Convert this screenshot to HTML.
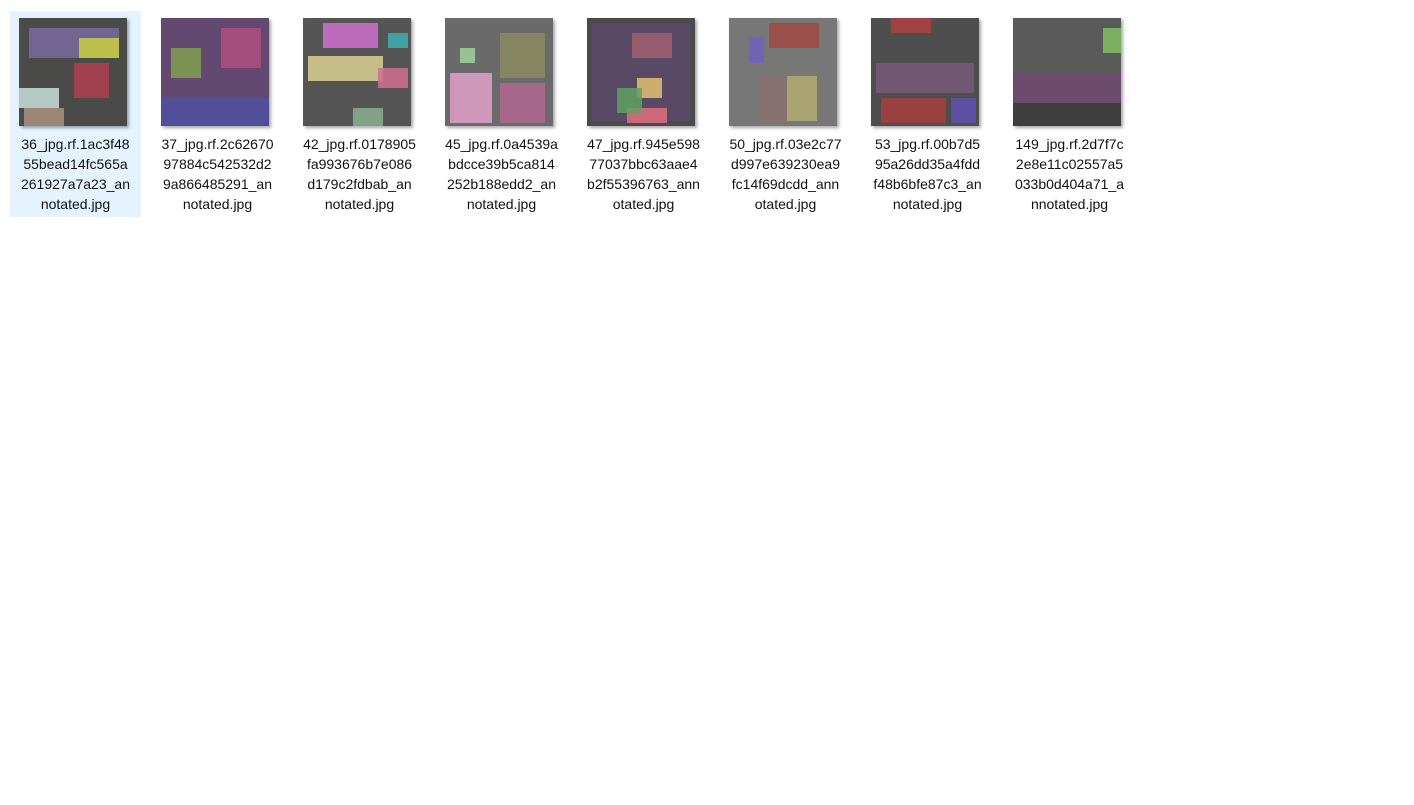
<!DOCTYPE html>
<html><head><meta charset="utf-8"><style>
body{margin:0;width:1414px;height:805px;background:#fff;font-family:"Liberation Sans",sans-serif;position:relative;overflow:hidden}
.item{position:absolute;top:11px;width:131px;height:206px}
.item.sel{background:#e5f3ff}
.thumb{position:absolute;left:9px;top:7px;width:108px;height:108px;box-shadow:2px 2px 3px rgba(0,0,0,.35)}
.label{position:absolute;left:0;top:123px;width:131px;text-align:center;font-size:14px;line-height:20px;color:#111}
</style></head><body>
<div id="grid"></div>
<script>
var names=[["36_jpg.rf.1ac3f48","55bead14fc565a","261927a7a23_an","notated.jpg"],
["37_jpg.rf.2c62670","97884c542532d2","9a866485291_an","notated.jpg"],
["42_jpg.rf.0178905","fa993676b7e086","d179c2fdbab_an","notated.jpg"],
["45_jpg.rf.0a4539a","bdcce39b5ca814","252b188edd2_an","notated.jpg"],
["47_jpg.rf.945e598","77037bbc63aae4","b2f55396763_ann","otated.jpg"],
["50_jpg.rf.03e2c77","d997e639230ea9","fc14f69dcdd_ann","otated.jpg"],
["53_jpg.rf.00b7d5","95a26dd35a4fdd","f48b6bfe87c3_an","notated.jpg"],
["149_jpg.rf.2d7f7c","2e8e11c02557a5","033b0d404a71_a","nnotated.jpg"]];
var bgs=["#4a4a48","#3c3c3c","#555","#6a6a6a","#4a4a4a","#777","#4e4e4e","#5a5a5a"];
var shapes=[
[[0,70,40,20,"#c8e0dc"],[5,90,40,18,"#a89080"],[55,45,35,35,"#b04050"],[10,10,90,30,"#7a6aa0"],[60,20,40,20,"#c8d040"]],
[[0,0,108,108,"#6a4a78"],[10,30,30,30,"#80a050"],[60,10,40,40,"#b05080"],[0,80,108,28,"#5050a0"]],
[[20,5,55,25,"#d070d0"],[5,38,75,25,"#d8d090"],[75,50,30,20,"#d07090"],[85,15,20,15,"#40b0b0"],[50,90,30,18,"#8ab090"]],
[[5,55,42,50,"#e0a0c8"],[55,15,45,45,"#8a8a60"],[55,65,45,40,"#b06890"],[15,30,15,15,"#a0d0a0"]],
[[5,5,98,98,"#5a4a68"],[45,15,40,25,"#a06070"],[40,90,40,15,"#e07080"],[50,60,25,20,"#e0c070"],[30,70,25,25,"#60a060"]],
[[40,5,50,25,"#a04840"],[30,60,30,45,"#8a7070"],[58,58,30,45,"#b0aa70"],[20,20,15,25,"#7060c0"]],
[[20,0,40,15,"#b04040"],[5,45,98,30,"#7a5a7a"],[10,80,65,25,"#a84040"],[80,80,25,25,"#6050b0"]],
[[0,55,108,30,"#704870"],[0,85,108,23,"#3a3a3a"],[90,10,18,25,"#80c060"]]];
var g=document.getElementById('grid');
for(var i=0;i<8;i++){
 var it=document.createElement('div');
 it.className='item'+(i==0?' sel':'');
 it.style.left=(10+142*i)+'px';
 
 
 var svg='<svg class="thumb" viewBox="0 0 108 108" width="108" height="108"><rect width="108" height="108" fill="'+bgs[i]+'"/>';
 shapes[i].forEach(function(s){svg+='<rect x="'+s[0]+'" y="'+s[1]+'" width="'+s[2]+'" height="'+s[3]+'" fill="'+s[4]+'" opacity="0.85"/>';});
 svg+='</svg>';
 it.innerHTML=svg+'<div class="label">'+names[i].join('<br>')+'</div>';
 g.appendChild(it);
}
</script>
</body></html>
